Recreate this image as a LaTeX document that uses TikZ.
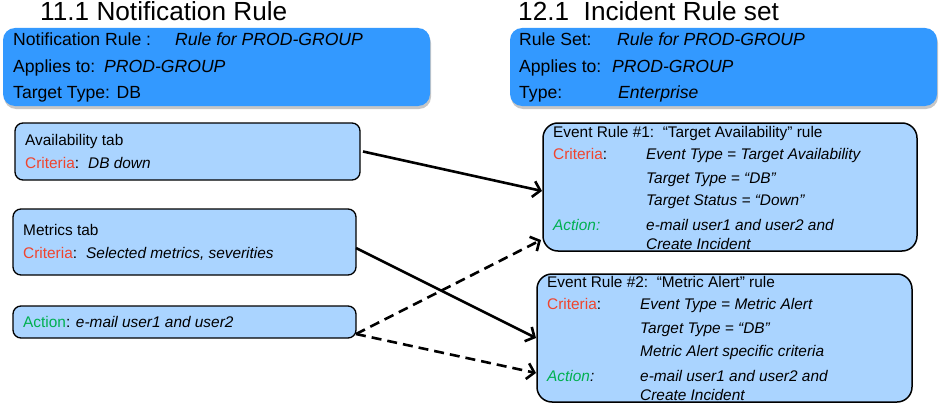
\documentclass[tikz,border=0pt]{standalone}
\usepackage{fontspec}
\setmainfont{Liberation Sans}
\usetikzlibrary{arrows.meta,shadows}
\definecolor{topblue}{RGB}{51,153,255}
\definecolor{lightblue}{RGB}{170,212,255}
\definecolor{critred}{RGB}{240,68,45}
\definecolor{actgreen}{RGB}{0,176,80}
\tikzset{
  topbox/.style={fill=topblue, rounded corners=12pt, inner sep=0pt, outer sep=0pt,
    drop shadow={shadow xshift=1pt, shadow yshift=-3pt, opacity=0.45}},
  tabbox/.style={fill=lightblue, draw=black, line width=1.3pt, rounded corners=8pt, inner sep=0pt, outer sep=0pt},
  evbox/.style={fill=lightblue, draw=black, line width=1.5pt, rounded corners=15pt, inner sep=0pt, outer sep=0pt},
  txt/.style={anchor=base west, inner sep=0pt, font=\fontsize{15.4}{18}\selectfont},
  bigtxt/.style={anchor=base west, inner sep=0pt, font=\fontsize{17.6}{21}\selectfont},
  ttl/.style={anchor=base west, inner sep=0pt, font=\fontsize{26.2}{30}\selectfont},
  flow/.style={line width=2.6pt, -{Straight Barb[length=7pt,width=16pt]}},
  dflow/.style={flow, dash pattern=on 10pt off 6pt},
}
\begin{document}
\begin{tikzpicture}[x=1pt,y=-1pt]
\useasboundingbox (0,0) rectangle (940,404);
% titles
\node[ttl] (ttl1) at (40,21) {11.1 Notification Rule};
\node[ttl] (ttl2) at (518,21) {12.1\ \ Incident Rule set};
% top boxes
\node[topbox, minimum width=427pt, minimum height=78pt] (nr) at (216.5,67) {};
\node[topbox, minimum width=427pt, minimum height=78pt] (rs) at (723.5,67) {};
\node[bigtxt] (nr1) at (13,46) {Notification Rule :};
\node[bigtxt] (nr1b) at (175,46) {\itshape Rule for PROD-GROUP};
\node[bigtxt] (nr2) at (13,72.5) {Applies to:};
\node[bigtxt] (nr2b) at (104,72.5) {\itshape PROD-GROUP};
\node[bigtxt] (nr3) at (13,99) {Target Type: DB};
\node[bigtxt] (rs1) at (519,46) {Rule Set:};
\node[bigtxt] (rs1b) at (617,46) {\itshape Rule for PROD-GROUP};
\node[bigtxt] (rs2) at (519,72.5) {Applies to:};
\node[bigtxt] (rs2b) at (612,72.5) {\itshape PROD-GROUP};
\node[bigtxt] (rs3) at (519,99) {Type:};
\node[bigtxt] (rs3b) at (618,99) {\itshape Enterprise};
% left boxes
\node[tabbox, minimum width=345pt, minimum height=57pt] (avail) at (187.5,151.5) {};
\node[tabbox, minimum width=343pt, minimum height=66pt] (metrics) at (184.5,242) {};
\node[tabbox, minimum width=343pt, minimum height=32pt] (action) at (184.5,322) {};
\node[txt] (a1) at (25,145) {Availability tab};
\node[txt] (a2) at (25,168) {\color{critred}Criteria\color{black}:};
\node[txt] (a2b) at (88,168) {\itshape DB down};
\node[txt] (m1) at (23,235) {Metrics tab};
\node[txt] (m2) at (23,258) {\color{critred}Criteria\color{black}:};
\node[txt] (m2b) at (86,258) {\itshape Selected metrics, severities};
\node[txt] (ac1) at (23,327) {\color{actgreen}Action\color{black}: \itshape e-mail user1 and user2};
% right boxes
\node[evbox, minimum width=374pt, minimum height=128pt] (ev1) at (730,187) {};
\node[evbox, minimum width=375pt, minimum height=128pt] (ev2) at (724.5,338) {};
\node[txt] (e1t) at (553,137) {Event Rule \#1:\ \ “Target Availability” rule};
\node[txt] (e1c) at (553,159) {\color{critred}Criteria\color{black}:};
\node[txt] (e1c1) at (646,159) {\itshape Event Type = Target Availability};
\node[txt] (e1c2) at (646,183) {\itshape Target Type = “DB”};
\node[txt] (e1c3) at (646,205) {\itshape Target Status = “Down”};
\node[txt] (e1a) at (553,230) {\color{actgreen}\itshape Action:};
\node[txt] (e1a1) at (646,230) {\itshape e-mail user1 and user2 and};
\node[txt] (e1a2) at (646,249) {\itshape Create Incident};
\node[txt] (e2t) at (547,287) {Event Rule \#2:\ \ “Metric Alert” rule};
\node[txt] (e2c) at (547,309) {\color{critred}Criteria\color{black}:};
\node[txt] (e2c1) at (640,309) {\itshape Event Type = Metric Alert};
\node[txt] (e2c2) at (640,333) {\itshape Target Type = “DB”};
\node[txt] (e2c3) at (640,356) {\itshape Metric Alert specific criteria};
\node[txt] (e2a) at (547,381) {\itshape\color{actgreen}Action\color{black}:};
\node[txt] (e2a1) at (640,381) {\itshape e-mail user1 and user2 and};
\node[txt] (e2a2) at (640,400) {\itshape Create Incident};
% connectors
\draw[flow] ([xshift=3pt]avail.east) -- ([xshift=-1pt,yshift=-4pt]ev1.west);
\draw[flow] ([yshift=-6pt]metrics.east) -- ([xshift=-1pt]ev2.west);
\draw[dflow] ([yshift=4pt]action.south east) -- ([xshift=-2pt,yshift=11pt]ev1.south west);
\draw[dflow] ([yshift=4pt]action.south east) -- ([xshift=-1pt,yshift=-35pt]ev2.west);
\end{tikzpicture}
\end{document}
